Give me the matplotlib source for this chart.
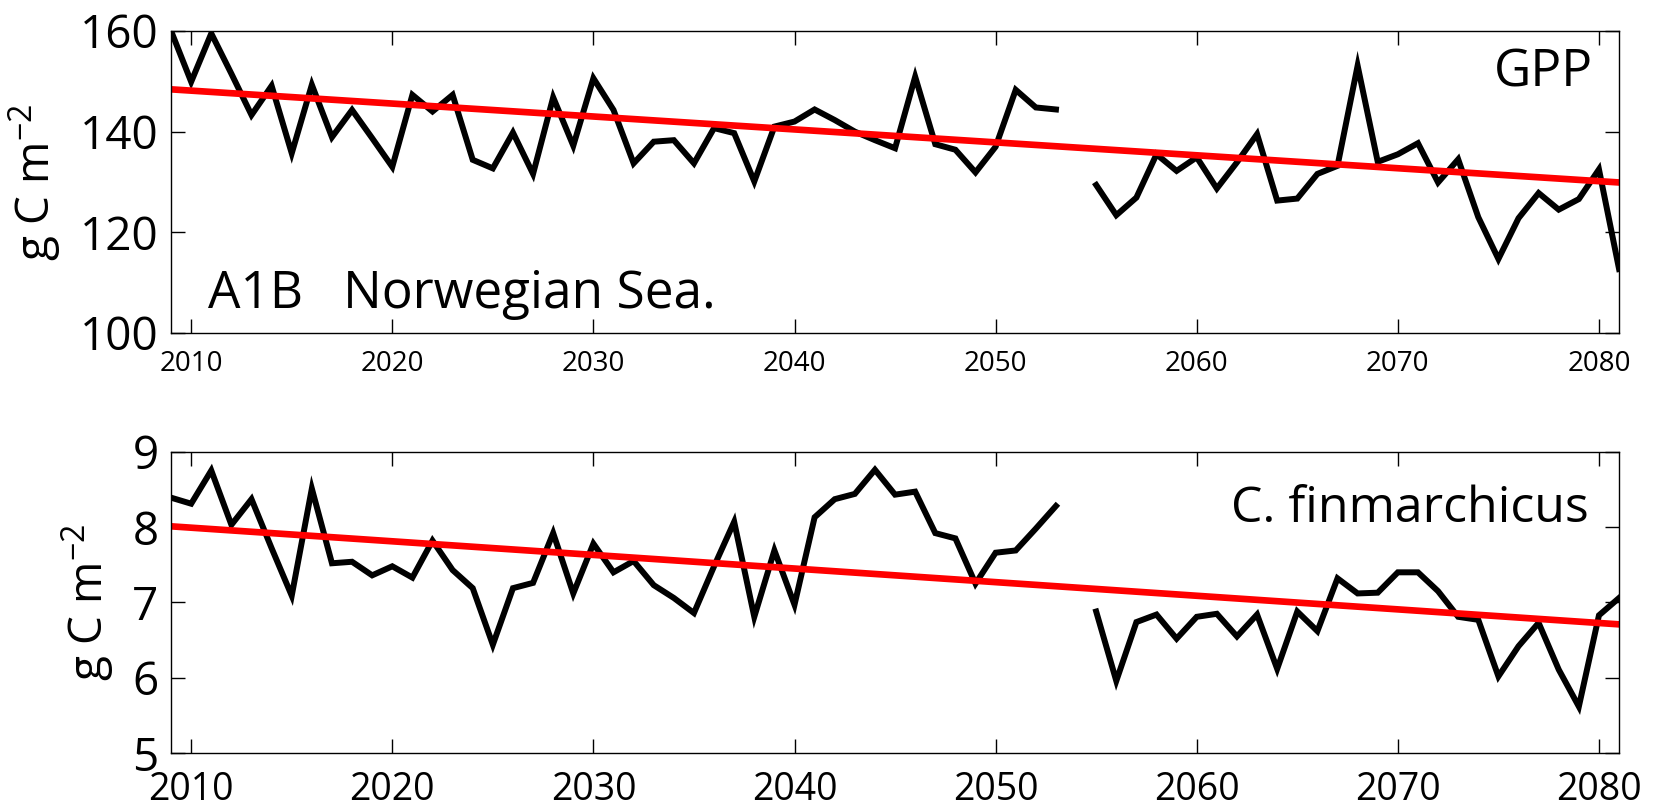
import numpy as np
import matplotlib
matplotlib.use("Agg")
import matplotlib.pyplot as plt

plt.rcParams['font.family'] = ['Open Sans', 'DejaVu Sans']
plt.rcParams['mathtext.fontset'] = 'custom'
plt.rcParams['mathtext.rm'] = 'Open Sans'
plt.rcParams['mathtext.it'] = 'Open Sans'

years = np.arange(2009, 2082)

# GPP (g C m-2), NaN = missing year 2054
gpp = [160.0, 149.9, 159.5, 151.5, 143.3, 149.1, 135.7, 149.3, 138.9, 144.3,
       138.7, 133.0, 147.3, 144.0, 147.3, 134.4, 132.7, 139.8, 131.6, 146.8,
       137.2, 150.6, 144.3, 133.7, 138.0, 138.3, 133.7, 140.7, 139.7, 130.1,
       141.0, 142.0, 144.4, 142.3, 140.0, 138.3, 136.7, 150.9, 137.5, 136.4,
       131.9, 137.0, 148.3, 144.8, 144.4, np.nan, 129.4, 123.4, 126.9, 135.5,
       132.2, 134.9, 128.7, 133.9, 139.5, 126.3, 126.7, 131.6, 133.2, 153.1,
       134.0, 135.5, 137.7, 129.9, 134.5, 123.0, 114.7, 122.8, 127.8, 124.5,
       126.6, 132.5, 112.7]

# C. finmarchicus biomass (g C m-2)
cfin = [8.39, 8.31, 8.75, 8.03, 8.37, 7.72, 7.09, 8.51, 7.52, 7.54,
        7.36, 7.48, 7.33, 7.82, 7.43, 7.19, 6.44, 7.19, 7.26, 7.92,
        7.12, 7.78, 7.40, 7.55, 7.23, 7.06, 6.86, 7.48, 8.07, 6.81,
        7.69, 6.97, 8.13, 8.37, 8.44, 8.76, 8.43, 8.47, 7.92, 7.85,
        7.25, 7.66, 7.69, 7.98, 8.28, np.nan, 6.88, 5.96, 6.74, 6.84,
        6.52, 6.81, 6.85, 6.55, 6.84, 6.12, 6.88, 6.62, 7.32, 7.12,
        7.13, 7.40, 7.40, 7.15, 6.81, 6.77, 6.02, 6.42, 6.73, 6.11,
        5.62, 6.83, 7.06]

# linear trends (end points)
trend_years = [2009, 2081]
gpp_trend = [148.4, 129.9]
cfin_trend = [8.01, 6.71]

fig = plt.figure(figsize=(16.64, 8.08), dpi=100)
ax1 = fig.add_axes([0.1028, 0.5879, 0.8702, 0.3738])
ax2 = fig.add_axes([0.1028, 0.0677, 0.8702, 0.3733])


def style_axis(ax, ylim, yticks, xfs, xpad):
    ax.set_xlim(2009, 2081)
    ax.set_ylim(*ylim)
    ax.set_yticks(yticks)
    ax.set_xticks([2010, 2020, 2030, 2040, 2050, 2060, 2070, 2080])
    ax.tick_params(direction='in', length=10, width=1, top=True, right=True)
    ax.tick_params(axis='y', labelsize=33, pad=9)
    ax.tick_params(axis='x', labelsize=xfs, pad=xpad)
    for s in ax.spines.values():
        s.set_linewidth(1.0)
    ax.set_ylabel('g C m$^{-2}$', fontsize=33, labelpad=12)


ax1.plot(years, gpp, color='black', lw=4.3, solid_joinstyle='miter')
ax1.plot(trend_years, gpp_trend, color='#ff0000', lw=4.8)
style_axis(ax1, (100, 160), [100, 120, 140, 160], 20, 12)
ax1.text(0.0256, 0.083, 'A1B   Norwegian Sea.', transform=ax1.transAxes,
         fontsize=37, va='baseline', ha='left')
ax1.text(0.982, 0.815, 'GPP', transform=ax1.transAxes,
         fontsize=37, va='baseline', ha='right')

ax2.plot(years, cfin, color='black', lw=4.3, solid_joinstyle='miter')
ax2.plot(trend_years, cfin_trend, color='#ff0000', lw=4.8)
style_axis(ax2, (5, 9), [5, 6, 7, 8, 9], 27, 13)
ax2.text(0.979, 0.768, 'C. finmarchicus', transform=ax2.transAxes,
         fontsize=36, va='baseline', ha='right')

fig.savefig('out.png', dpi=100)
